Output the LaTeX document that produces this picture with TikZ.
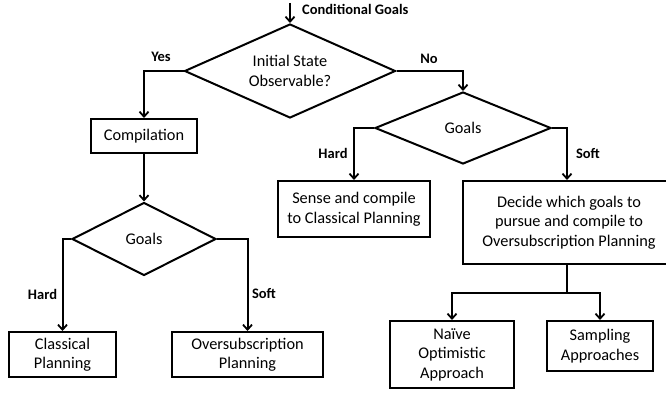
\documentclass[tikz,border=0pt]{standalone}
\usepackage{fontspec}
\setmainfont{Carlito}
\usetikzlibrary{shapes.geometric,arrows.meta}
\begin{document}
\begin{tikzpicture}[x=1pt,y=-1pt,
  every node/.style={font=\fontsize{16.3}{19.5}\selectfont},
  box/.style={draw,line width=2pt,align=center,inner sep=0pt},
  choice/.style={draw,line width=2pt,shape=diamond,align=center,inner sep=0pt},
  lbl/.style={font=\fontsize{14.5}{17}\selectfont\bfseries,inner sep=0pt},
  conn/.style={line width=2pt,-{Straight Barb[length=5pt,width=9pt,line width=1.8pt]}},
  plain/.style={line width=2pt}]
\useasboundingbox (0,0) rectangle (666,395);
\fill[white] (0,0) rectangle (666,395);

\coordinate (start) at (290,3);
\node[choice,aspect=2.24,minimum width=211pt,minimum height=94pt] (d1) at (290,71) {Initial State\\Observable?};
\node[box,minimum width=106pt,minimum height=34pt] (comp) at (144,136) {Compilation};
\node[choice,aspect=1.97,minimum width=144pt,minimum height=73pt] (d2) at (144,239) {Goals};
\node[box,minimum width=107pt,minimum height=45pt] (class) at (62.5,354.5) {Classical\\Planning};
\node[box,minimum width=151pt,minimum height=45pt] (over) at (247.5,354.5) {Oversubscription\\Planning};
\node[choice,aspect=2.44,minimum width=176pt,minimum height=72pt] (d3) at (463,128) {Goals};
\node[box,minimum width=152pt,minimum height=56pt] (sense) at (354,209) {Sense and compile\\to Classical Planning};
\node[box,minimum width=212pt,minimum height=83pt] (decide) at (569,222.5) {Decide which goals to\\pursue and compile to\\Oversubscription Planning};
\coordinate (split) at (567,293);
\node[box,minimum width=124pt,minimum height=67pt] (naive) at (452,354.5) {Naïve\\Optimistic\\Approach};
\node[box,minimum width=106pt,minimum height=50pt] (samp) at (600,346) {Sampling\\Approaches};

\draw[conn] (start) -- (d1.north);
\draw[conn] (d1.west) -| (comp.north);
\draw[conn] (comp.south) -- (d2.north);
\draw[conn] (d2.west) -| (class.north);
\draw[conn] (d2.east) -| (over.north);
\draw[conn] (d1.east) -| (d3.north);
\draw[conn] (d3.west) -| (sense.north);
\draw[conn] (d3.east) -| ([xshift=-2pt]decide.north);
\draw[plain] ([xshift=-2pt]decide.south) -- (split);
\draw[conn] (split) -| (naive.north);
\draw[conn] (split) -| (samp.north);

\node[lbl,anchor=west] (lcond) at (302,9.5) {Conditional Goals};
\node[lbl] (lyes) at (161,57) {Yes};
\node[lbl] (lno) at (429,59) {No};
\node[lbl] (lhard1) at (42.5,294) {Hard};
\node[lbl] (lsoft1) at (264,294) {Soft};
\node[lbl] (lhard2) at (333,153) {Hard};
\node[lbl] (lsoft2) at (588,154) {Soft};
\end{tikzpicture}
\end{document}
